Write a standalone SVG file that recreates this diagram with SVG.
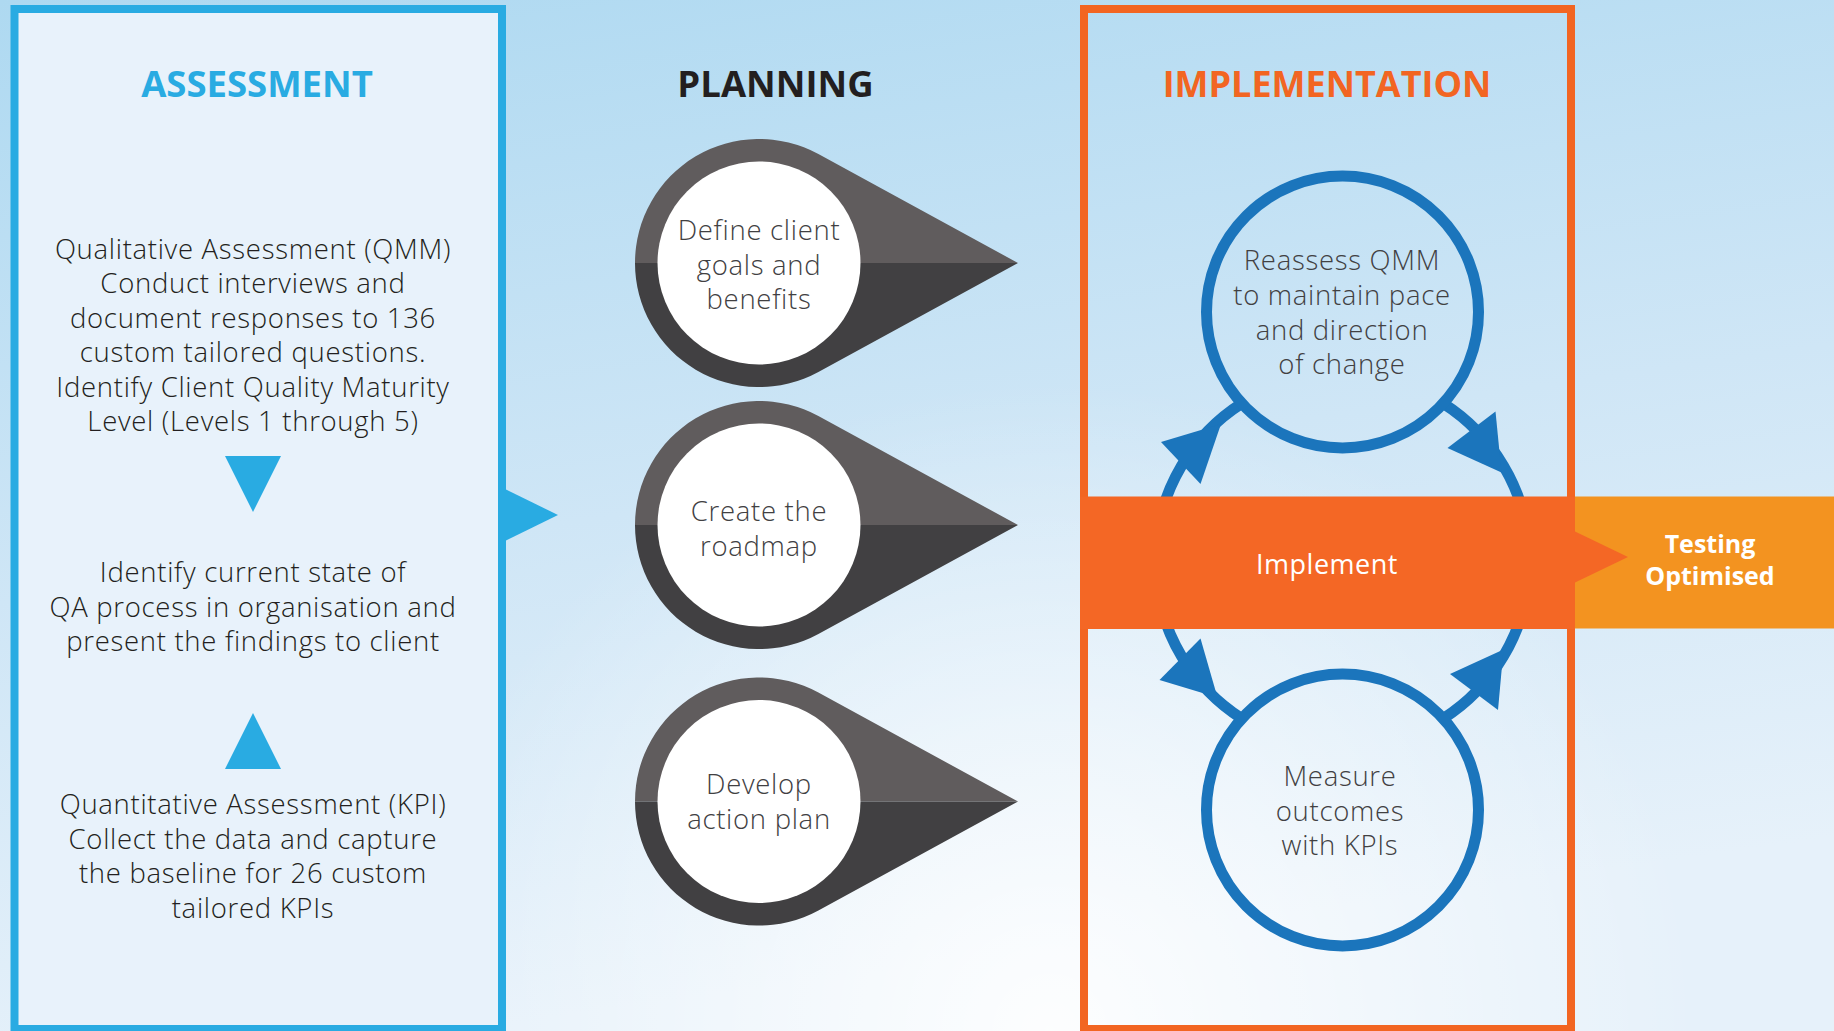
<svg xmlns="http://www.w3.org/2000/svg" width="1834" height="1031" viewBox="0 0 1834 1031">
<defs>
<linearGradient id="bg" x1="0" y1="0" x2="0.25" y2="1">
<stop offset="0" stop-color="#aed9f1"/>
<stop offset="0.55" stop-color="#cfe6f6"/>
<stop offset="1" stop-color="#e6f1fa"/>
</linearGradient>
<radialGradient id="glow" cx="1050" cy="1031" r="650" gradientUnits="userSpaceOnUse">
<stop offset="0" stop-color="#ffffff" stop-opacity="0.9"/>
<stop offset="1" stop-color="#ffffff" stop-opacity="0"/>
</radialGradient>
<style>
.hdr{font-family:"Open Sans","Liberation Sans",sans-serif;font-weight:700;font-size:36.5px;text-anchor:middle}
.body{font-family:"Open Sans","Liberation Sans",sans-serif;font-weight:300;font-size:27.5px;letter-spacing:0.7px;fill:#231f20;text-anchor:middle}
.node{font-family:"Open Sans","Liberation Sans",sans-serif;font-weight:300;font-size:27.5px;letter-spacing:0.7px;fill:#414042;text-anchor:middle}
.pinTop{fill:#605c5d}
.pinBot{fill:#414042}
.pinIn{fill:#ffffff}
.ring{fill:none;stroke:#1b75bc;stroke-width:11}
.head{fill:#1b75bc}
.tri{fill:#29abe2}
</style>
</defs>
<rect x="0" y="0" width="1834" height="1031" fill="url(#bg)"/>
<rect x="0" y="0" width="1834" height="1031" fill="url(#glow)"/>

<g id="assessment">
<rect x="14.5" y="9" width="487.5" height="1020" fill="#e8f2fb" stroke="#29abe2" stroke-width="8"/>
<text class="hdr" x="257" y="97" fill="#29abe2">ASSESSMENT</text>
</g>

<g id="qualitative">
<text class="body" x="253" y="258.5">Qualitative Assessment (QMM)</text>
<text class="body" x="253" y="293">Conduct interviews and</text>
<text class="body" x="253" y="327.5">document responses to 136</text>
<text class="body" x="253" y="362">custom tailored questions.</text>
<text class="body" x="253" y="396.5">Identify Client Quality Maturity</text>
<text class="body" x="253" y="431">Level (Levels 1 through 5)</text>
</g>

<g id="current-state">
<text class="body" x="253" y="582">Identify current state of</text>
<text class="body" x="253" y="616.5">QA process in organisation and</text>
<text class="body" x="253" y="651">present the findings to client</text>
</g>

<g id="quantitative">
<text class="body" x="253" y="814">Quantitative Assessment (KPI)</text>
<text class="body" x="253" y="848.5">Collect the data and capture</text>
<text class="body" x="253" y="883">the baseline for 26 custom</text>
<text class="body" x="253" y="917.5">tailored KPIs</text>
</g>

<g id="connectors">
<polygon class="tri" points="225,456 281,456 253,512"/>
<polygon class="tri" points="225,769 281,769 253,713"/>
<polygon class="tri" points="505,489 558,515 505,541"/>
<path class="ring" d="M1241.8,403.4 A187,187 0 0 0 1241.8,718.6"/>
<path class="ring" d="M1443.2,403.4 A187,187 0 0 1 1443.2,718.6"/>
<polygon class="head" points="1221,424 1161,442 1200.5,484"/>
<polygon class="head" points="1217.5,697.5 1159.5,680 1200.5,638.5"/>
<polygon class="head" points="1501.5,472.5 1495.5,411.5 1447.5,448"/>
<polygon class="head" points="1503.5,649.5 1498,710 1450,674"/>
</g>

<g id="planning">
<text class="hdr" x="775.5" y="97" fill="#231f20">PLANNING</text>
</g>

<g id="pin-goals">
<path class="pinTop" d="M635,263 A124,124 0 0 1 818.4,154.1 L1018,263 Z"/>
<path class="pinBot" d="M635,263 A124,124 0 0 0 818.4,371.9 L1018,263 Z"/>
<circle class="pinIn" cx="759" cy="263" r="101.5"/>
<text class="node" x="759" y="240">Define client</text>
<text class="node" x="759" y="274.5">goals and</text>
<text class="node" x="759" y="309">benefits</text>
</g>

<g id="pin-roadmap">
<path class="pinTop" d="M635,525 A124,124 0 0 1 818.4,416.1 L1018,525 Z"/>
<path class="pinBot" d="M635,525 A124,124 0 0 0 818.4,633.9 L1018,525 Z"/>
<circle class="pinIn" cx="759" cy="525" r="101.5"/>
<text class="node" x="759" y="521">Create the</text>
<text class="node" x="759" y="555.5">roadmap</text>
</g>

<g id="pin-action">
<path class="pinTop" d="M635,801.5 A124,124 0 0 1 818.4,692.6 L1018,801.5 Z"/>
<path class="pinBot" d="M635,801.5 A124,124 0 0 0 818.4,910.4 L1018,801.5 Z"/>
<circle class="pinIn" cx="759" cy="801.5" r="101.5"/>
<text class="node" x="759" y="794">Develop</text>
<text class="node" x="759" y="829">action plan</text>
</g>

<g id="implementation">
<rect x="1084" y="9" width="487" height="1020" fill="none" stroke="#f26522" stroke-width="8"/>
<text class="hdr" x="1327" y="97" fill="#f26522" style="font-size:36px">IMPLEMENTATION</text>
</g>

<g id="reassess">
<circle class="ring" cx="1342.5" cy="312" r="136"/>
<text class="node" x="1342" y="270">Reassess QMM</text>
<text class="node" x="1342" y="305">to maintain pace</text>
<text class="node" x="1342" y="339.5">and direction</text>
<text class="node" x="1342" y="374">of change</text>
</g>

<g id="measure">
<circle class="ring" cx="1342.5" cy="810" r="136"/>
<text class="node" x="1340" y="786">Measure</text>
<text class="node" x="1340" y="820.5">outcomes</text>
<text class="node" x="1340" y="855">with KPIs</text>
</g>

<g id="testing-optimised">
<rect x="1575" y="496.5" width="259" height="132" fill="#f39320"/>
<text x="1710" y="553" font-family="'Open Sans','Liberation Sans',sans-serif" font-weight="700" font-size="25" fill="#ffffff" text-anchor="middle">Testing</text>
<text x="1710" y="585" font-family="'Open Sans','Liberation Sans',sans-serif" font-weight="700" font-size="25" fill="#ffffff" text-anchor="middle">Optimised</text>
</g>

<g id="implement">
<rect x="1080" y="496.5" width="495" height="132.5" fill="#f46725"/>
<polygon points="1574,531 1628,557 1574,583" fill="#f46725"/>
<text x="1327" y="574" font-family="'Open Sans','Liberation Sans',sans-serif" font-weight="400" font-size="27" letter-spacing="0.5" fill="#ffffff" text-anchor="middle">Implement</text>
</g>
</svg>
